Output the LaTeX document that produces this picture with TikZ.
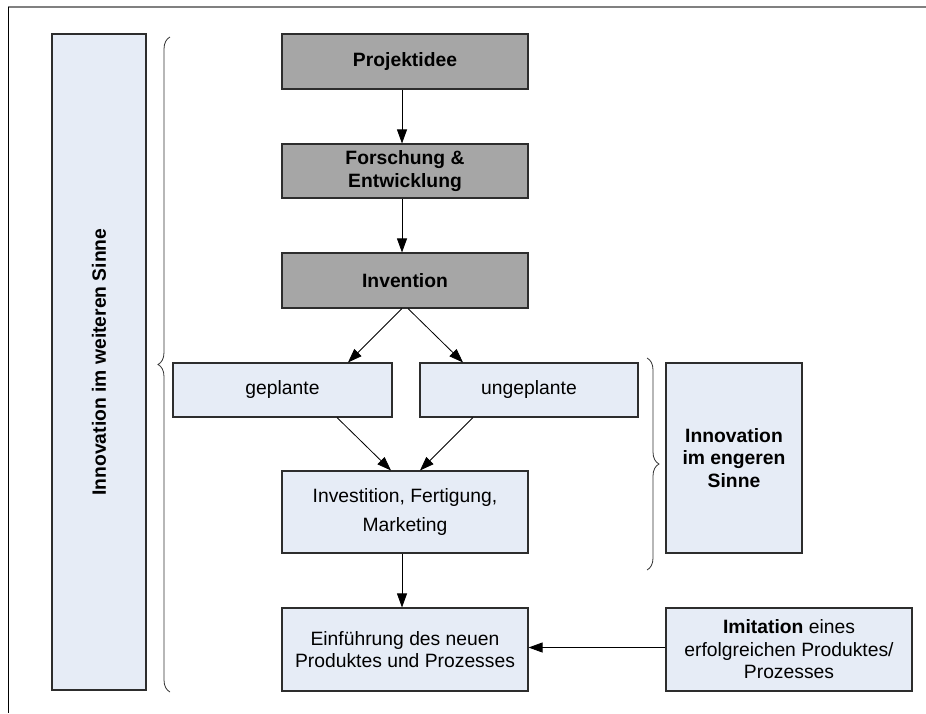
\documentclass[tikz,border=0pt]{standalone}
\usepackage{fontspec}
\setmainfont{Liberation Sans}
\usetikzlibrary{arrows.meta,decorations.pathreplacing,calc}
\definecolor{darkfill}{RGB}{166,166,166}
\definecolor{lightfill}{RGB}{230,236,246}
\definecolor{boxline}{RGB}{45,45,45}
\definecolor{framegray}{RGB}{128,128,128}
\begin{document}
\begin{tikzpicture}[x=1pt,y=-1pt,
  every node/.style={font=\fontsize{19.3}{22.5}\selectfont},
  basebox/.style={draw=boxline,line width=1.1pt,inner sep=0pt,align=center},
  darkbox/.style={basebox,fill=darkfill,font=\fontsize{19.3}{22.5}\selectfont\bfseries},
  lightbox/.style={basebox,fill=lightfill},
  flow/.style={draw=black,line width=0.8pt,-{Triangle[length=14pt,width=10pt]}},
  bracket/.style={draw=black!80,line width=0.8pt,decorate,decoration={brace,amplitude=12pt}}
]
\useasboundingbox (0,0) rectangle (926,713);

% outer frame
\draw[framegray,line width=2pt] (8,7) -- (926,7);
\draw[black,line width=0.8pt] (8,7) -- (8,713);

% main process column
\node[darkbox,minimum width=246pt,minimum height=55pt] (proj) at (405,61.5) {Projektidee};
\node[darkbox,minimum width=246pt,minimum height=54pt] (fue) at (405,171) {Forschung \&\\Entwicklung};
\node[darkbox,minimum width=246pt,minimum height=55pt] (inv) at (405,280.5) {Invention};
\node[lightbox,minimum width=219pt,minimum height=54pt] (gepl) at (282.5,390) {geplante};
\node[lightbox,minimum width=218pt,minimum height=54pt] (ungepl) at (529,390) {ungeplante};
\node[lightbox,minimum width=246pt,minimum height=82pt] (ifm) at (405,512) {Investition, Fertigung,\\[7pt]Marketing};
\node[lightbox,minimum width=246pt,minimum height=83pt] (einf) at (405,649.5) {Einführung des neuen\\Produktes und Prozesses};
\node[lightbox,minimum width=246pt,minimum height=83pt] (imit) at (789,649.5) {\textbf{Imitation} eines\\erfolgreichen Produktes/\\Prozesses};

% side labels
\node[lightbox,minimum width=136pt,minimum height=190pt,font=\fontsize{19.3}{22.5}\selectfont\bfseries] (eng) at (734,458) {Innovation\\im engeren\\Sinne};
\node[lightbox,minimum width=94pt,minimum height=656pt] (weit) at (99,362) {};
\node[rotate=90,font=\fontsize{19.3}{22.5}\selectfont\bfseries] (weitlabel) at (weit.center) {Innovation im weiteren Sinne};

% braces
\coordinate (wb1) at (170,692);
\coordinate (wb2) at (170,37);
\draw[bracket] (wb1) -- (wb2);
\coordinate (eb1) at (647,358);
\coordinate (eb2) at (647,570);
\draw[bracket] (eb1) -- (eb2);

% connectors
\draw[flow] ([xshift=-3pt]proj.south) -- ([xshift=-3pt]fue.north);
\draw[flow] ([xshift=-3pt]fue.south) -- ([xshift=-3pt]inv.north);
\draw[flow] ([xshift=-3pt]inv.south) -- ([xshift=65.5pt]gepl.north);
\draw[flow] ([xshift=3pt]inv.south) -- ([xshift=-66pt]ungepl.north);
\draw[flow] ([xshift=54.5pt]gepl.south) -- ([xshift=-14pt]ifm.north);
\draw[flow] ([xshift=-56pt]ungepl.south) -- ([xshift=15pt]ifm.north);
\draw[flow] ([xshift=-3pt]ifm.south) -- ([xshift=-3pt]einf.north);
\draw[flow] ([yshift=2pt]imit.west) -- ([yshift=2pt]einf.east);
\end{tikzpicture}
\end{document}
